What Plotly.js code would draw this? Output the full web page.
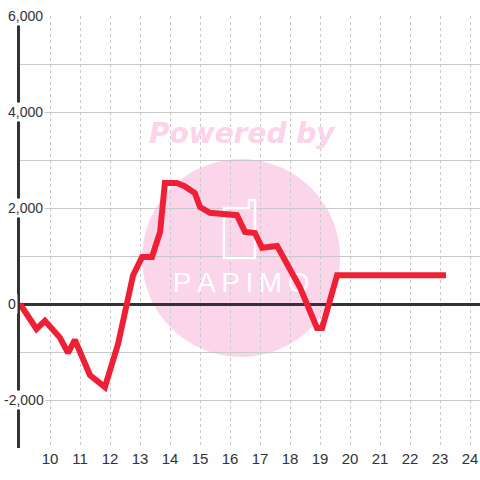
<!DOCTYPE html>
<html>
<head>
<meta charset="utf-8">
<script src="https://cdn.plot.ly/plotly-3.0.1.min.js"></script>
<style>html,body{margin:0;padding:0;background:#fdfefd;}#chart{width:480px;height:480px;}</style>
</head>
<body>
<div id="chart"></div>
<script>
// Data
const hours = [9.0, 9.55, 9.83, 10.33, 10.6, 10.83, 11.33, 11.83, 12.27, 12.77, 13.07, 13.4, 13.67, 13.83, 14.23, 14.5, 14.83, 15.0, 15.33, 16.23, 16.5, 16.83, 17.07, 17.57, 18.33, 18.9, 19.07, 19.57, 23.2];
const values = [0, -520, -350, -700, -1020, -750, -1480, -1730, -830, 600, 980, 980, 1500, 2520, 2520, 2450, 2310, 2020, 1900, 1850, 1500, 1480, 1170, 1210, 350, -500, -500, 600, 600];
const xTickVals = [10, 11, 12, 13, 14, 15, 16, 17, 18, 19, 20, 21, 22, 23, 24];
const yLabelVals = [6000, 4000, 2000, 0, -2000];
const yLabelText = ['6,000', '4,000', '2,000', '0', '-2,000'];

const BG = '#fdfefd';
const FONT = 'Liberation Sans, Arial, sans-serif';

const traces = [
  {
    x: [16.37], y: [396], mode: 'text', text: ['P A P I M O'.replace(/ /g, '\u2009')],
    textfont: {family: FONT, size: 28, color: '#ffffff'},
    hoverinfo: 'skip', showlegend: false
  },
  {
    x: hours, y: values, mode: 'lines', type: 'scatter',
    line: {color: '#ee2036', width: 6},
    showlegend: false
  }
];

const annotations = yLabelVals.map((v, i) => ({
  xref: 'paper', yref: 'y', x: -14/460, y: v, xanchor: 'left', yanchor: 'middle',
  xshift: v < 0 ? -4 : 0,
  text: yLabelText[i], showarrow: false, bgcolor: BG, borderpad: 1,
  font: {family: FONT, size: 14, color: '#333333'}
}));
annotations.push({
  xref: 'x', yref: 'y', x: 16.4, y: 3560, text: 'Powered by', showarrow: false,
  font: {family: 'DejaVu Sans, sans-serif', size: 28, color: '#fcd3ea', weight: 'bold', style: 'italic'}
});

const layout = {
  width: 480, height: 480,
  margin: {l: 20, r: 0, t: 16, b: 32, pad: 0},
  paper_bgcolor: BG, plot_bgcolor: BG,
  showlegend: false,
  xaxis: {
    range: [9, 9 + 460/30], tickvals: xTickVals, ticktext: xTickVals.map(String),
    showgrid: true, gridcolor: '#c8c8c8', gridwidth: 1, griddash: '3px,3px',
    zeroline: false, showline: false, ticks: '',
    tickfont: {family: FONT, size: 15, color: '#333333'}, fixedrange: true
  },
  yaxis: {
    range: [-3000, 6000], dtick: 1000, tick0: 0,
    showgrid: true, gridcolor: '#c8c8c8', gridwidth: 1,
    zeroline: true, zerolinecolor: '#333333', zerolinewidth: 3,
    showline: true, linecolor: '#333333', linewidth: 3,
    showticklabels: false, ticks: '', fixedrange: true
  },
  shapes: [
    {type: 'circle', layer: 'below', xref: 'x', yref: 'y', x0: 13.07, x1: 19.67, y0: -1104, y1: 3021,
     fillcolor: '#fbd5ea', line: {width: 0}},
    {type: 'path', layer: 'between', xref: 'x', yref: 'y',
     path: 'M 15.8 2000 L 16.63 2000 L 16.63 2167 L 16.833 2167 L 16.833 958 L 15.8 958 Z',
     line: {color: '#ffffff', width: 2.5}}
  ],
  annotations: annotations
};

Plotly.newPlot('chart', traces, layout, {displayModeBar: false, staticPlot: true});
</script>
</body>
</html>
